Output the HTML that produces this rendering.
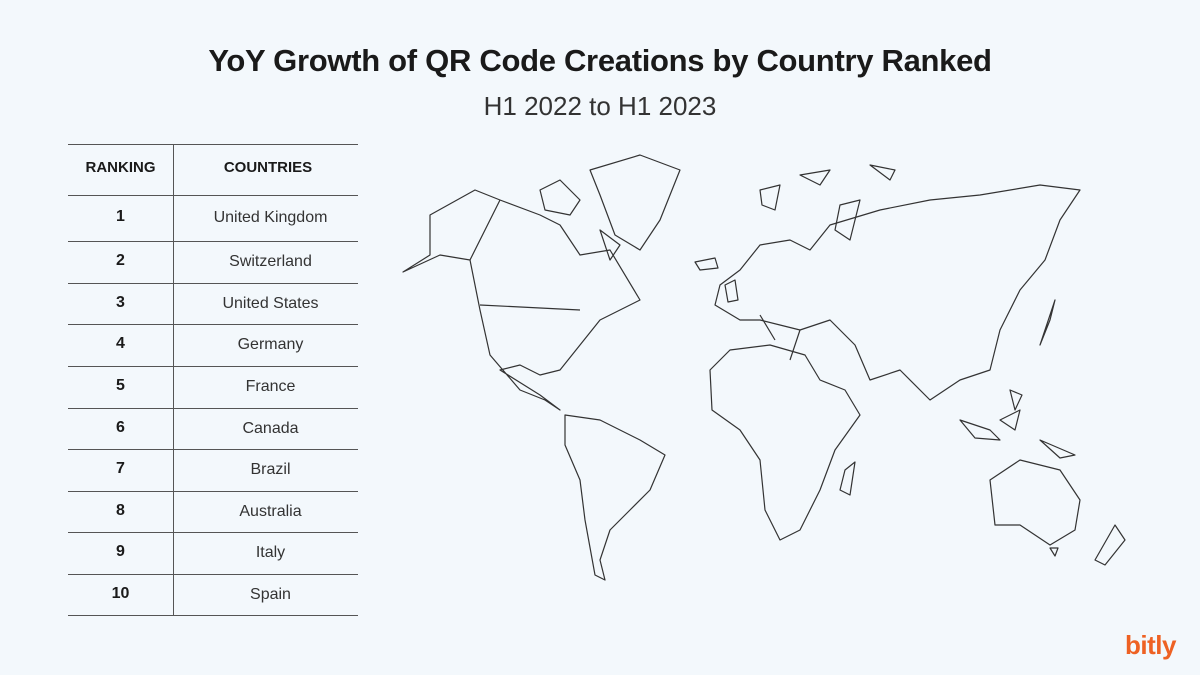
<!DOCTYPE html>
<html><head><meta charset="utf-8"><style>
body{margin:0;width:1200px;height:675px;background:#f3f8fc;font-family:"Liberation Sans",sans-serif;position:relative;overflow:hidden;color:#1a1a1a}
.t{position:absolute;left:0;width:1200px;text-align:center}
.h{position:absolute;border-top:1.5px solid #555;left:68px;width:290px;height:0}
.c{position:absolute;font-size:16px;text-align:center;line-height:20px}
</style></head><body>
<div class="t" style="top:43px;font-size:31px;font-weight:bold;letter-spacing:-0.3px">YoY Growth of QR Code Creations by Country Ranked</div>
<div class="t" style="top:91px;font-size:26px;color:#333">H1 2022 to H1 2023</div>
<div style="position:absolute;left:173px;top:144px;height:471px;border-left:1.5px solid #555"></div>
<div class="h" style="top:144px"></div>
<div class="c" style="left:68px;width:105px;top:158px;font-weight:bold;font-size:15px">RANKING</div>
<div class="c" style="left:173px;width:190px;top:158px;font-weight:bold;font-size:15px">COUNTRIES</div>
<div class="h" style="top:195px"></div>
<div id="rows"></div>
<script>
var n=["United Kingdom","Switzerland","United States","Germany","France","Canada","Brazil","Australia","Italy","Spain"],
b=[195,241,283,324,366,408,449,491,532,574,615],s="";
for(var i=0;i<10;i++){var m=(b[i]+b[i+1])/2;
s+='<div class="c" style="left:68px;width:105px;top:'+(m-11)+'px;font-weight:bold">'+(i+1)+'</div>';
s+='<div class="c" style="left:173px;width:195px;top:'+(m-10)+'px;color:#333">'+n[i]+'</div>';
s+='<div class="h" style="top:'+b[i+1]+'px"></div>';}
document.getElementById('rows').innerHTML=s;
</script>
<svg style="position:absolute;left:0;top:0" width="1200" height="675" fill="none" stroke="#333" stroke-width="1.2" stroke-linejoin="round">
<path d="M403,272 L430,255 L430,215 L475,190 L500,200 L540,215 L560,225 L580,255 L610,250 L640,300 L600,320 L580,345 L560,370 L540,375 L520,365 L500,370 L540,395 L560,410 L545,400 L520,390 L490,355 L480,310 L470,260 L440,255 Z"/>
<path d="M480,305 L580,310 M500,200 L470,260"/>
<path d="M590,170 L640,155 L680,170 L660,220 L640,250 L615,235 L600,195 Z"/>
<path d="M540,190 L560,180 L580,200 L570,215 L545,210 Z M600,230 L620,245 L610,260 Z M695,262 L715,258 L718,268 L700,270 Z"/>
<path d="M565,415 L600,420 L640,440 L665,455 L650,490 L630,510 L610,530 L600,560 L605,580 L595,575 L585,520 L580,480 L565,445 Z"/>
<path d="M715,305 L720,285 L740,270 L760,245 L790,240 L810,250 L830,225 L880,210 L930,200 L980,195 L1040,185 L1080,190 L1060,220 L1045,260 L1020,290 L1000,330 L990,370 L960,380 L930,400 L900,370 L870,380 L855,345 L830,320 L800,330 L780,325 L760,320 L740,320 Z"/>
<path d="M725,285 L735,280 L738,300 L728,302 Z M760,315 L775,340 M800,330 L790,360"/>
<path d="M710,370 L730,350 L770,345 L805,355 L820,380 L845,390 L860,415 L835,450 L820,490 L800,530 L780,540 L765,510 L760,460 L740,430 L712,410 Z"/>
<path d="M845,470 L855,462 L850,495 L840,490 Z"/>
<path d="M990,480 L1020,460 L1060,470 L1080,500 L1075,530 L1050,545 L1020,525 L995,525 Z"/>
<path d="M1040,345 L1050,320 L1055,300 L1045,330 Z M1115,525 L1125,540 L1105,565 L1095,560 Z M1050,548 L1058,548 L1055,556 Z"/>
<path d="M960,420 L990,430 L1000,440 L975,438 Z M1000,420 L1020,410 L1015,430 Z M1040,440 L1075,455 L1060,458 Z M1010,390 L1022,395 L1015,410 Z"/>
<path d="M840,205 L860,200 L850,240 L835,230 Z M800,175 L830,170 L820,185 Z M870,165 L895,170 L890,180 Z M760,190 L780,185 L775,210 L762,205 Z"/>
</svg>
<div style="position:absolute;left:1125px;top:630px;font-size:26px;font-weight:bold;color:#ee6123;letter-spacing:-0.5px">bitly</div>
</body></html>
